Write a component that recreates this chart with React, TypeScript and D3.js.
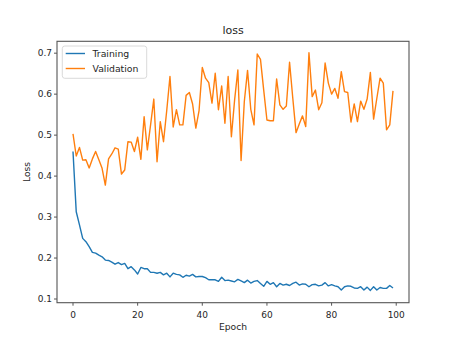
import React from "react";
import * as d3 from "d3";

const epochs: number[] = Array.from({ length: 100 }, (_, i) => i);

const training: number[] = [
  0.46, 0.313, 0.281, 0.248, 0.24, 0.228, 0.214, 0.212, 0.207, 0.203,
  0.195, 0.194, 0.19, 0.185, 0.189, 0.184, 0.187, 0.174, 0.179, 0.171,
  0.161, 0.177, 0.174, 0.174, 0.165, 0.165, 0.163, 0.165, 0.159, 0.163,
  0.154, 0.163, 0.16, 0.159, 0.153, 0.158, 0.156, 0.16, 0.154, 0.155,
  0.155, 0.152, 0.147, 0.147, 0.147, 0.143, 0.153, 0.145, 0.146, 0.144,
  0.142, 0.148, 0.144, 0.14, 0.146, 0.139, 0.143, 0.145, 0.138, 0.131,
  0.143, 0.136, 0.14, 0.13, 0.138, 0.134, 0.136, 0.133, 0.138, 0.141,
  0.134, 0.137, 0.136, 0.13, 0.135, 0.136, 0.132, 0.134, 0.14, 0.132,
  0.135, 0.132, 0.13, 0.122, 0.13, 0.132, 0.131, 0.127, 0.126, 0.13,
  0.122, 0.129, 0.121, 0.13, 0.122, 0.128, 0.126, 0.126, 0.133, 0.127,
];

const validation: number[] = [
  0.503, 0.449, 0.47, 0.439, 0.44, 0.42, 0.442, 0.46, 0.44, 0.419,
  0.378, 0.442, 0.454, 0.469, 0.466, 0.405, 0.415, 0.484, 0.483, 0.46,
  0.495, 0.441, 0.545, 0.464, 0.525, 0.588, 0.435, 0.533, 0.484, 0.56,
  0.643, 0.52, 0.562, 0.525, 0.525, 0.597, 0.604, 0.576, 0.517, 0.56,
  0.665, 0.639, 0.628, 0.578, 0.651, 0.562, 0.62, 0.529, 0.643, 0.496,
  0.586, 0.659, 0.438, 0.582, 0.658, 0.563, 0.525, 0.698, 0.685, 0.61,
  0.537, 0.535, 0.535, 0.637, 0.574, 0.563, 0.571, 0.678, 0.59, 0.506,
  0.527, 0.547, 0.521, 0.701, 0.594, 0.61, 0.562, 0.579, 0.676, 0.627,
  0.6, 0.614, 0.59, 0.655, 0.606, 0.604, 0.532, 0.576, 0.533, 0.583,
  0.563, 0.588, 0.653, 0.539, 0.59, 0.639, 0.627, 0.513, 0.525, 0.608,
];

const xTicks: number[] = [0, 20, 40, 60, 80, 100];
const yTicks: number[] = [0.1, 0.2, 0.3, 0.4, 0.5, 0.6, 0.7];

const W = 454;
const H = 340;
const left = 57;
const right = 409;
const top = 41.3;
const bottom = 302.7;
const font = "DejaVu Sans, sans-serif";
const textColor = "#262626";

export default function App() {
  const x = d3.scaleLinear().domain([-4.95, 103.95]).range([left, right]);
  const y = d3.scaleLinear().domain([0.091, 0.729]).range([bottom, top]);
  const line = d3
    .line<number>()
    .x((_, i) => x(epochs[i]))
    .y((d) => y(d));

  return (
    <div style={{ position: "fixed", left: 0, top: 0 }}>
      <svg width={W} height={H} style={{ display: "block", background: "#fff" }}>
        <rect x={0} y={0} width={W} height={H} fill="#fff" />
        <text x={(left + right) / 2} y={34} textAnchor="middle" fontFamily={font} fontSize={11} fill={textColor}>
          loss
        </text>
        <path d={line(training) || ""} fill="none" stroke="#1f77b4" strokeWidth={1.4} strokeLinejoin="round" />
        <path d={line(validation) || ""} fill="none" stroke="#ff7f0e" strokeWidth={1.4} strokeLinejoin="round" />
        <rect x={left} y={top} width={right - left} height={bottom - top} fill="none" stroke="#555" strokeWidth={1.1} />
        {xTicks.map((t) => (
          <g key={"x" + t}>
            <line x1={x(t)} x2={x(t)} y1={bottom} y2={bottom + 3} stroke="#555" strokeWidth={1} />
            <text x={x(t)} y={317.5} textAnchor="middle" fontFamily={font} fontSize={9} fill={textColor}>
              {t}
            </text>
          </g>
        ))}
        {yTicks.map((t) => (
          <g key={"y" + t}>
            <line x1={left - 3} x2={left} y1={y(t)} y2={y(t)} stroke="#555" strokeWidth={1} />
            <text x={left - 5} y={y(t) + 3.2} textAnchor="end" fontFamily={font} fontSize={9} fill={textColor}>
              {t.toFixed(1)}
            </text>
          </g>
        ))}
        <text x={(left + right) / 2} y={330} textAnchor="middle" fontFamily={font} fontSize={9.2} fill={textColor}>
          Epoch
        </text>
        <text
          transform={`translate(${30},${(top + bottom) / 2}) rotate(-90)`}
          textAnchor="middle"
          fontFamily={font}
          fontSize={9.2}
          fill={textColor}
        >
          Loss
        </text>
        <g>
          <rect x={62.3} y={46} width={84.4} height={32.3} rx={2.5} fill="#fff" fillOpacity={0.8} stroke="#d0d0d0" strokeWidth={0.8} />
          <line x1={65.7} x2={85} y1={53.5} y2={53.5} stroke="#1f77b4" strokeWidth={1.4} />
          <text x={92.5} y={56.8} fontFamily={font} fontSize={9.3} fill={textColor}>
            Training
          </text>
          <line x1={65.7} x2={85} y1={68.5} y2={68.5} stroke="#ff7f0e" strokeWidth={1.4} />
          <text x={92.5} y={71.8} fontFamily={font} fontSize={9.3} fill={textColor}>
            Validation
          </text>
        </g>
      </svg>
    </div>
  );
}
